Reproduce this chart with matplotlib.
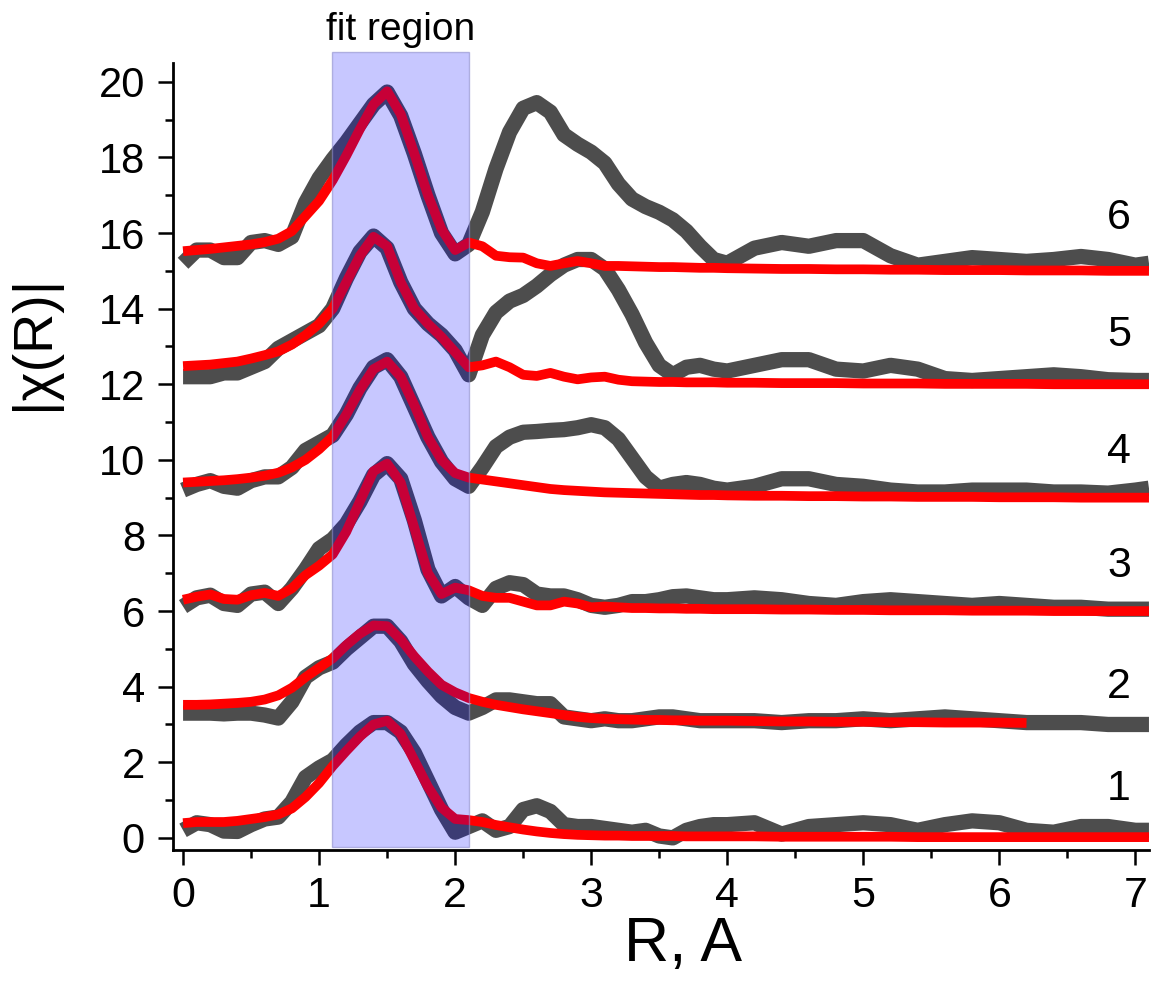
import numpy as np
import matplotlib
matplotlib.use('Agg')
import matplotlib.pyplot as plt
from matplotlib.patches import Rectangle

plt.rcParams['font.family'] = ['Liberation Sans', 'DejaVu Sans']

# R grid (A)
r = [0.0, 0.1, 0.2, 0.3, 0.4, 0.5, 0.6, 0.7, 0.8, 0.9,
     1.0, 1.1, 1.2, 1.3, 1.4, 1.5, 1.6, 1.7, 1.8, 1.9,
     2.0, 2.1, 2.2, 2.3, 2.4, 2.5, 2.6, 2.7, 2.8, 2.9,
     3.0, 3.1, 3.2, 3.3, 3.4, 3.5, 3.6, 3.7, 3.8, 3.9,
     4.0, 4.2, 4.4, 4.6, 4.8, 5.0, 5.2, 5.4, 5.6, 5.8,
     6.0, 6.2, 6.4, 6.6, 6.8, 7.0, 7.1]

# experimental |chi(R)| (offset curves)
exp1 = [0.2, 0.4, 0.35, 0.18, 0.17, 0.35, 0.5, 0.55, 0.95, 1.6,
        1.85, 2.05, 2.45, 2.8, 3.05, 3.05, 2.8, 2.25, 1.5, 0.75,
        0.15, 0.3, 0.45, 0.2, 0.3, 0.75, 0.85, 0.7, 0.35, 0.3,
        0.3, 0.25, 0.2, 0.15, 0.2, 0.05, 0.0, 0.2, 0.3, 0.35,
        0.35, 0.4, 0.1, 0.3, 0.35, 0.4, 0.35, 0.2, 0.35, 0.45,
        0.4, 0.2, 0.15, 0.3, 0.3, 0.2, 0.2]
exp2 = [3.3, 3.3, 3.3, 3.28, 3.3, 3.3, 3.25, 3.17, 3.6, 4.25,
        4.5, 4.65, 5.0, 5.3, 5.6, 5.6, 5.2, 4.6, 4.15, 3.75,
        3.45, 3.3, 3.45, 3.65, 3.65, 3.6, 3.55, 3.55, 3.2, 3.15,
        3.1, 3.15, 3.1, 3.1, 3.15, 3.2, 3.2, 3.15, 3.1, 3.1,
        3.1, 3.1, 3.05, 3.1, 3.1, 3.15, 3.1, 3.15, 3.2, 3.15,
        3.1, 3.05, 3.05, 3.05, 3.0, 3.0, 3.0]
exp3 = [6.12, 6.35, 6.42, 6.2, 6.15, 6.45, 6.5, 6.2, 6.6, 7.1,
        7.65, 7.9, 8.3, 8.9, 9.6, 9.9, 9.5, 8.4, 7.1, 6.4,
        6.65, 6.35, 6.15, 6.6, 6.75, 6.7, 6.45, 6.4, 6.4, 6.3,
        6.15, 6.1, 6.15, 6.25, 6.25, 6.3, 6.38, 6.4, 6.35, 6.3,
        6.3, 6.35, 6.3, 6.2, 6.15, 6.25, 6.3, 6.25, 6.2, 6.15,
        6.2, 6.15, 6.1, 6.1, 6.05, 6.05, 6.05]
exp4 = [9.2, 9.35, 9.45, 9.3, 9.25, 9.45, 9.55, 9.55, 9.8, 10.25,
        10.45, 10.65, 11.2, 11.9, 12.45, 12.65, 12.2, 11.4, 10.6, 9.95,
        9.5, 9.3, 9.8, 10.35, 10.6, 10.73, 10.75, 10.78, 10.8, 10.85,
        10.93, 10.85, 10.55, 10.05, 9.55, 9.25, 9.35, 9.4, 9.35, 9.25,
        9.2, 9.3, 9.5, 9.5, 9.35, 9.3, 9.2, 9.15, 9.15, 9.2,
        9.2, 9.2, 9.15, 9.15, 9.12, 9.2, 9.25]
exp5 = [12.2, 12.2, 12.2, 12.3, 12.3, 12.45, 12.6, 12.95, 13.15, 13.35,
        13.55, 14.0, 14.8, 15.5, 15.92, 15.6, 14.7, 14.0, 13.6, 13.3,
        12.9, 12.25, 13.3, 13.9, 14.2, 14.35, 14.6, 14.9, 15.15, 15.3,
        15.3, 15.05, 14.5, 13.85, 13.1, 12.5, 12.25, 12.45, 12.5, 12.4,
        12.35, 12.5, 12.65, 12.65, 12.4, 12.35, 12.5, 12.4, 12.15, 12.1,
        12.15, 12.2, 12.25, 12.2, 12.12, 12.1, 12.1]
exp6 = [15.2, 15.55, 15.55, 15.35, 15.35, 15.75, 15.8, 15.7, 15.9, 16.8,
        17.45, 17.95, 18.4, 18.9, 19.4, 19.73, 19.1, 18.1, 17.0, 16.0,
        15.45, 15.7, 16.56, 17.7, 18.67, 19.3, 19.45, 19.2, 18.6, 18.35,
        18.14, 17.85, 17.3, 16.9, 16.7, 16.55, 16.35, 16.05, 15.65, 15.3,
        15.2, 15.6, 15.75, 15.65, 15.8, 15.8, 15.4, 15.15, 15.25, 15.35,
        15.3, 15.25, 15.3, 15.38, 15.3, 15.15, 15.2]

# fits
fit1 = [0.39, 0.42, 0.42, 0.42, 0.45, 0.5, 0.55, 0.62, 0.78, 1.08,
        1.45, 1.9, 2.3, 2.68, 3.0, 3.1, 2.75, 2.05, 1.35, 0.8,
        0.5, 0.47, 0.42, 0.34, 0.28, 0.22, 0.17, 0.13, 0.1, 0.08,
        0.07, 0.06, 0.06, 0.05, 0.05, 0.05, 0.05, 0.04, 0.04, 0.04,
        0.04, 0.04, 0.03, 0.03, 0.03, 0.03, 0.03, 0.02, 0.02, 0.02,
        0.02, 0.02, 0.02, 0.02, 0.02, 0.02, 0.02]
fit2 = [3.52, 3.52, 3.53, 3.55, 3.57, 3.6, 3.66, 3.77, 3.97, 4.25,
        4.5, 4.75, 5.1, 5.4, 5.62, 5.6, 5.25, 4.8, 4.4, 4.05,
        3.85, 3.7, 3.6, 3.52, 3.46, 3.4, 3.35, 3.3, 3.25, 3.2,
        3.17, 3.15, 3.14, 3.13, 3.12, 3.12, 3.11, 3.11, 3.1, 3.1,
        3.1, 3.09, 3.08, 3.08, 3.07, 3.07, 3.06, 3.06, 3.05, 3.05,
        3.05, 3.04, np.nan, np.nan, np.nan, np.nan, np.nan]
fit3 = [6.3, 6.38, 6.44, 6.32, 6.3, 6.42, 6.48, 6.4, 6.6, 6.95,
        7.2, 7.5, 8.1, 8.9, 9.7, 9.9, 9.4, 8.2, 7.0, 6.45,
        6.62, 6.55, 6.4, 6.35, 6.35, 6.25, 6.15, 6.15, 6.25, 6.2,
        6.1, 6.12, 6.1, 6.08, 6.08, 6.07, 6.07, 6.06, 6.06, 6.05,
        6.05, 6.05, 6.04, 6.04, 6.03, 6.03, 6.02, 6.02, 6.02, 6.01,
        6.01, 6.01, 6.0, 6.0, 6.0, 6.0, 6.0]
fit4 = [9.4, 9.42, 9.44, 9.46, 9.49, 9.53, 9.58, 9.66, 9.8, 10.0,
        10.28, 10.62, 11.2, 11.85, 12.4, 12.6, 12.2, 11.45, 10.6, 10.0,
        9.65, 9.53, 9.48, 9.43, 9.38, 9.33, 9.28, 9.23, 9.2, 9.18,
        9.16, 9.14, 9.13, 9.12, 9.11, 9.1, 9.09, 9.08, 9.07, 9.07,
        9.06, 9.05, 9.05, 9.04, 9.04, 9.03, 9.03, 9.02, 9.02, 9.02,
        9.01, 9.01, 9.01, 9.0, 9.0, 9.0, 9.0]
fit5 = [12.48, 12.5, 12.52, 12.56, 12.6, 12.68, 12.77, 12.87, 13.05, 13.3,
        13.6, 14.0, 14.7, 15.4, 15.9, 15.65, 14.7, 14.0, 13.6, 13.25,
        12.85, 12.45, 12.5, 12.6, 12.45, 12.25, 12.22, 12.3, 12.2, 12.13,
        12.18, 12.2, 12.12, 12.08, 12.07, 12.06, 12.06, 12.05, 12.05, 12.05,
        12.04, 12.04, 12.03, 12.03, 12.03, 12.02, 12.02, 12.02, 12.01, 12.01,
        12.01, 12.01, 12.0, 12.0, 12.0, 12.0, 12.0]
fit6 = [15.52, 15.55, 15.58, 15.62, 15.66, 15.7, 15.76, 15.85, 16.05, 16.45,
        16.85, 17.4, 18.05, 18.75, 19.4, 19.75, 19.15, 18.1, 17.0, 16.1,
        15.55, 15.75, 15.65, 15.4, 15.36, 15.35, 15.2, 15.13, 15.2, 15.26,
        15.2, 15.13, 15.13, 15.12, 15.11, 15.1, 15.1, 15.09, 15.08, 15.08,
        15.07, 15.06, 15.05, 15.05, 15.04, 15.04, 15.03, 15.03, 15.02, 15.02,
        15.02, 15.01, 15.01, 15.01, 15.0, 15.0, 15.0]

curve_labels = ['1', '2', '3', '4', '5', '6']
label_y = [1.3, 4.0, 7.2, 10.2, 13.3, 16.4]
fit_lo, fit_hi = 1.095, 2.1

fig = plt.figure(figsize=(11.53, 9.88), dpi=100)
ax = fig.add_axes([0.1498, 0.1397, 0.8467, 0.7966])

for e in [exp1, exp2, exp3, exp4, exp5, exp6]:
    ax.plot(r, e, color='#4d4d4d', lw=11, solid_capstyle='butt',
            solid_joinstyle='round', zorder=2)
for f in [fit1, fit2, fit3, fit4, fit5, fit6]:
    ax.plot(r, f, color='#ff0000', lw=7, solid_capstyle='butt',
            solid_joinstyle='round', zorder=2.5)

# fit region box
ax.add_patch(Rectangle((fit_lo, -0.25), fit_hi - fit_lo, 21.05,
                       facecolor=(0, 0, 1, 0.22), edgecolor=(0.55, 0.55, 0.8, 0.6),
                       lw=1, zorder=3, clip_on=False))
ax.text((fit_lo + fit_hi) / 2, 21.1, 'fit region', ha='center', va='baseline',
        fontsize=28)

for lab, yy in zip(curve_labels, label_y):
    ax.text(6.88, yy, lab, ha='center', va='center', fontsize=31)

ax.set_xlim(-0.076, 7.10)
ax.set_ylim(-0.32, 20.5)
ax.spines['top'].set_visible(False)
ax.spines['right'].set_visible(False)
for s in ['left', 'bottom']:
    ax.spines[s].set_linewidth(2)

ax.set_xticks([0, 1, 2, 3, 4, 5, 6, 7])
ax.set_xticks(np.arange(0.5, 7.1, 1.0), minor=True)
ax.set_yticks([0, 2, 4, 6, 8, 10, 12, 14, 16, 18, 20])
ax.set_yticks(np.arange(1, 20, 2), minor=True)
ax.tick_params(axis='both', which='major', direction='out', length=11, width=1.8)
ax.tick_params(axis='both', which='minor', direction='out', length=6, width=1.8)
ax.tick_params(axis='x', which='major', labelsize=31, pad=8)
ax.tick_params(axis='y', which='major', labelsize=30, pad=9)

ax.set_xlabel('R, A', fontsize=45)
ax.xaxis.set_label_coords(0.523, -0.083)
ax.set_ylabel('|χ(R)|', fontsize=40)
ax.yaxis.set_label_coords(-0.115, 0.645)

fig.savefig('out.png', dpi=100)
